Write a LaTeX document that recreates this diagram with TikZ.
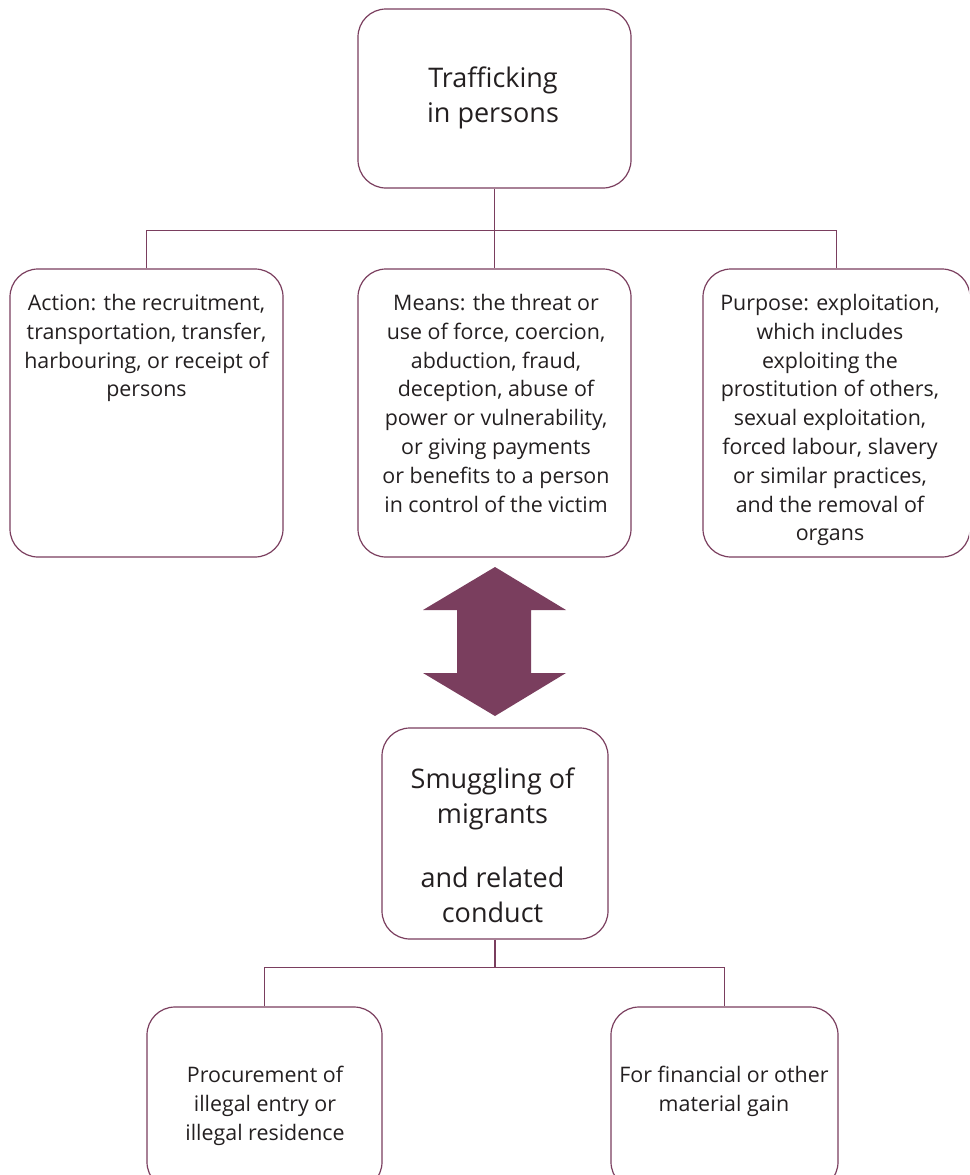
\documentclass[tikz,border=0pt]{standalone}
\usepackage{fontspec}
\setmainfont{Open Sans}
\definecolor{plum}{RGB}{122,62,94}
\definecolor{txt}{RGB}{35,31,32}
\begin{document}
\begin{tikzpicture}[x=1pt,y=-1pt,
  box/.style={draw=plum, line width=1.2pt, rounded corners=28pt, inner sep=0pt},
  txtnode/.style={text=txt, align=center, inner sep=0pt, anchor=north},
  big/.style={font=\fontsize{27}{35}\selectfont},
  small/.style={font=\fontsize{21.4}{28.8}\selectfont},
  link/.style={draw=plum, line width=1.2pt}]
\useasboundingbox (0,0) rectangle (969,1175);
\clip (0,0) rectangle (969,1175);
% boxes
\node[box, minimum width=273pt, minimum height=179pt] (top) at (494.5,98.5) {};
\node[box, minimum width=273pt, minimum height=288pt] (act) at (146.5,413) {};
\node[box, minimum width=273pt, minimum height=288pt] (means) at (494.5,413) {};
\node[box, minimum width=267pt, minimum height=288pt] (purp) at (836.5,413) {};
\node[box, minimum width=226pt, minimum height=211pt] (smug) at (495,833.5) {};
\node[box, minimum width=235pt, minimum height=183pt] (proc) at (264.5,1098.5) {};
\node[box, minimum width=227pt, minimum height=183pt] (gain) at (724.5,1098.5) {};
% texts
\node[txtnode,big] (ttop) at (493,67) {Trafficking\\in persons};
\node[txtnode,small] (tact) at (146.5,294) {Action: the recruitment,\\transportation, transfer,\\harbouring, or receipt of\\persons};
\node[txtnode,small] (tmeans) at (496,294) {Means: the threat or\\use of force, coercion,\\abduction, fraud,\\deception, abuse of\\power or vulnerability,\\or giving payments\\or benefits to a person\\in control of the victim};
\node[txtnode,small] (tpurp) at (830,294) {Purpose: exploitation,\\which includes\\exploiting the\\prostitution of others,\\sexual exploitation,\\forced labour, slavery\\or similar practices,\\and the removal of\\organs};
\node[txtnode,big] (tsmug) at (492.5,768) {Smuggling of\\migrants\\[29pt]and related\\conduct};
\node[txtnode,small] (tproc) at (265,1066) {Procurement of\\illegal entry or\\illegal residence};
\node[txtnode,small] (tgain) at (724,1066) {For financial or other\\material gain};
% connectors
\draw[link] (top.south) -- ++(0,42) coordinate (hub);
\draw[link] (act.north) |- (hub) -| (purp.north);
\draw[link] (hub) -- (means.north);
\draw[link] (smug.south) -- ++(0,28) coordinate (hub2);
\draw[link] (proc.north) |- (hub2) -| (gain.north);
% double arrow
\fill[plum] (495,567) -- (423,610) -- (457,610) -- (457,673) -- (423,673) -- (495,716)
  -- (566,673) -- (531,673) -- (531,610) -- (566,610) -- cycle;
\end{tikzpicture}
\end{document}
